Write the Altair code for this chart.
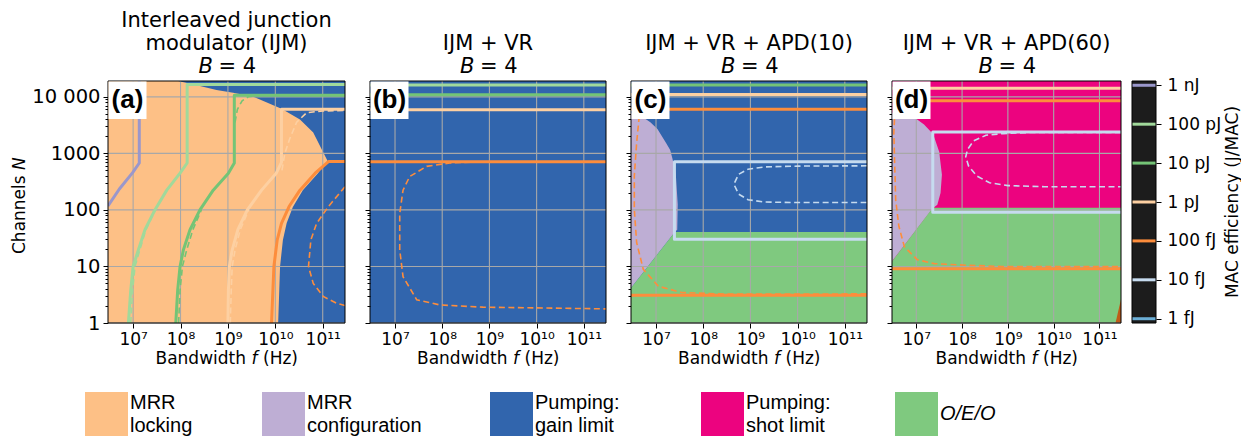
import altair as alt
import pandas as pd

FONT = "DejaVu Sans"
LEG_FONT = "Liberation Sans"

# ---------------- axis domains (log10 units) ----------------
F_LO, F_HI = 6.47, 11.47
N_LO, N_HI = 0.0, 4.28

X_TICKS = [1e7, 1e8, 1e9, 1e10, 1e11]
Y_TICKS = [1, 10, 100, 1000, 10000]
Y_MINOR = [m * 10 ** d for d in range(5) for m in range(2, 10) if m * 10 ** d < 10 ** N_HI]

# ---------------- energy levels ----------------
LEVELS = ["1 fJ", "10 fJ", "100 fJ", "1 pJ", "10 pJ", "100 pJ", "1 nJ"]
LEVEL_EXP = [-15, -14, -13, -12, -11, -10, -9]
LEVEL_COLORS = ["#6baed6", "#c6dbef", "#fd8d3c", "#fdd0a2", "#74c476", "#a1d99b", "#9a97cb"]

C_LOCK = "#fdc086"
C_CONF = "#beaed4"
C_GAIN = "#3165ad"
C_SHOT = "#ec037f"
C_OEO = "#7fc97f"
C_BROWN = "#bf5b17"

# ---------------- panel (a) ----------------
A_LOCK_N = [0.00, 1.00, 1.47, 1.77, 2.05, 2.35, 2.65, 2.87, 3.07, 3.37, 3.60, 3.79, 4.00, 4.07, 4.12, 4.19, 4.28]
A_LOCK_F = [10.06, 10.10, 10.16, 10.24, 10.37, 10.58, 10.90, 11.10, 10.98, 10.80, 10.52, 10.13, 9.54, 9.11, 8.76, 8.41, 7.95]

A_1NJ_F = [6.47, 6.71, 6.99, 7.13, 7.13]
A_1NJ_N = [2.07, 2.37, 2.66, 2.83, 4.30]
A_100PJ_F = [6.90, 6.95, 7.00, 7.11, 7.25, 7.46, 7.71, 7.99, 8.14, 8.14, 11.47]
A_100PJ_N = [0.00, 0.58, 1.00, 1.29, 1.65, 2.00, 2.35, 2.65, 2.83, 4.22, 4.22]
A_10PJ_F = [7.90, 7.94, 7.99, 8.06, 8.20, 8.41, 8.69, 9.01, 9.135, 9.135, 11.47]
A_10PJ_N = [0.00, 0.58, 1.00, 1.29, 1.65, 2.00, 2.35, 2.65, 2.83, 4.03, 4.03]
A_1PJ_F = [9.00, 9.01, 9.03, 9.09, 9.21, 9.41, 9.71, 10.02, 10.13, 10.13, 11.47]
A_1PJ_N = [0.00, 0.58, 1.00, 1.29, 1.65, 2.00, 2.35, 2.65, 2.84, 3.78, 3.78]
A_100FJ_F = [9.92, 9.97, 10.04, 10.13, 10.29, 10.52, 10.84, 11.12, 11.47]
A_100FJ_N = [0.00, 1.00, 1.47, 1.76, 2.06, 2.35, 2.65, 2.855, 2.855]
A_100FJ_D_F = [11.47, 11.12, 10.87, 10.75, 10.70, 10.80, 11.01, 11.29, 11.47]
A_100FJ_D_N = [2.41, 2.06, 1.76, 1.47, 1.00, 0.70, 0.47, 0.35, 0.31]
A_10PJ_D_F = [9.15, 9.20, 9.30, 9.43, 9.60, 11.47]
A_10PJ_D_N = [3.55, 3.78, 3.93, 4.00, 4.025, 4.025]
A_1PJ_D_F = [10.14, 10.20, 10.30, 10.45, 10.66, 11.00, 11.47]
A_1PJ_D_N = [2.70, 3.00, 3.25, 3.55, 3.72, 3.75, 3.76]
A_100PJ_D_F = [6.95, 6.99, 7.04, 7.14, 7.27, 7.47]
A_100PJ_D_N = [0.00, 0.58, 1.00, 1.29, 1.65, 2.00]
A_10PJ_D2_F = [7.96, 7.99, 8.04, 8.13, 8.26, 8.44]
A_10PJ_D2_N = [0.00, 0.58, 1.00, 1.29, 1.65, 2.00]
A_1PJ_D2_F = [9.05, 9.07, 9.09, 9.15, 9.26, 9.44]
A_1PJ_D2_N = [0.00, 0.58, 1.00, 1.29, 1.65, 2.00]

# ---------------- panel (b) ----------------
B_FULL_F = [6.47, 11.47]
B_100PJ_N = [4.21, 4.21]
B_10PJ_N = [4.035, 4.035]
B_1PJ_N = [3.77, 3.77]
B_100FJ_N = [2.85, 2.85]
B_100FJ_D_F = [9.20, 8.60, 8.16, 7.67, 7.31, 7.17, 7.10, 7.10, 7.17, 7.46, 7.95, 8.86, 11.47]
B_100FJ_D_N = [2.85, 2.845, 2.83, 2.77, 2.59, 2.35, 1.94, 1.29, 0.82, 0.41, 0.32, 0.28, 0.25]

# ---------------- panel (c) ----------------
C_OEO_F = [6.47, 7.40, 11.47]
C_OEO_N = [0.62, 1.61, 1.61]
C_CONF_N = [0.62, 1.61, 1.65, 2.10, 2.62, 2.90, 3.06, 3.19, 3.43, 3.55, 3.65, 3.72]
C_CONF_F = [6.47, 7.40, 7.45, 7.46, 7.42, 7.35, 7.30, 7.21, 7.03, 6.88, 6.70, 6.47]
C_10PJ_N = [4.21, 4.21]
C_1PJ_N = [4.04, 4.04]
C_100FJ_TOP_N = [3.78, 3.78]
C_100FJ_BOT_N = [0.49, 0.49]
C_10FJ_F = [11.47, 7.39, 7.39, 11.47]
C_10FJ_N = [2.85, 2.85, 1.48, 1.48]
C_100FJ_D_F = [6.80, 6.64, 6.59, 6.54, 6.54, 6.59, 6.73, 7.05, 7.54, 8.46, 11.47]
C_100FJ_D_N = [3.78, 3.62, 3.19, 2.60, 2.01, 1.42, 0.95, 0.65, 0.54, 0.51, 0.515]
C_10FJ_D_F = [11.47, 10.00, 9.30, 8.95, 8.75, 8.65, 8.75, 8.95, 9.30, 10.00, 11.47]
C_10FJ_D_N = [2.78, 2.775, 2.76, 2.72, 2.63, 2.455, 2.28, 2.18, 2.14, 2.13, 2.13]

# ---------------- panel (d) ----------------
D_OEO_F = [6.47, 7.36, 11.47]
D_OEO_N = [1.09, 2.04, 2.04]
D_CONF_N = [1.09, 2.03, 2.09, 2.30, 2.62, 3.03, 3.34, 3.51, 3.60, 3.68, 3.72]
D_CONF_F = [6.47, 7.36, 7.46, 7.53, 7.56, 7.50, 7.37, 7.17, 7.02, 6.80, 6.50]
D_BROWN_F = [11.35, 11.47]
D_BROWN_N = [0.00, 0.42]
D_1PJ_N = [4.15, 4.15]
D_100FJ_TOP_N = [3.93, 3.93]
D_100FJ_BOT_N = [0.96, 0.96]
D_10FJ_F = [11.47, 7.36, 7.36, 11.47]
D_10FJ_N = [3.38, 3.38, 1.96, 1.96]
D_100FJ_D_F = [6.62, 6.53, 6.51, 6.53, 6.55, 6.62, 6.74, 7.02, 7.39, 8.15, 8.87, 11.47]
D_100FJ_D_N = [3.93, 3.70, 3.36, 2.77, 2.18, 1.71, 1.35, 1.12, 1.05, 1.02, 1.00, 1.00]
D_10FJ_D_F = [11.47, 9.50, 8.90, 8.52, 8.25, 8.12, 8.08, 8.14, 8.32, 8.60, 9.00, 9.80, 11.47]
D_10FJ_D_N = [3.37, 3.37, 3.35, 3.32, 3.22, 3.07, 2.94, 2.78, 2.60, 2.48, 2.43, 2.41, 2.41]

# ---------------- legend ----------------
LEG_LABELS = [["MRR", "locking"], ["MRR", "configuration"], ["Pumping:", "gain limit"],
              ["Pumping:", "shot limit"], ["O/E/O"]]
LEG_COLORS = [C_LOCK, C_CONF, C_GAIN, C_SHOT, C_OEO]

# ---------------- helpers ----------------
PH = 242
XS = alt.Scale(type="log", domain=[10 ** F_LO, 10 ** F_HI], nice=False)
YS = alt.Scale(type="log", domain=[10 ** N_LO, 10 ** N_HI], nice=False)
COLOR_SCALE = alt.Scale(domain=LEVELS, range=LEVEL_COLORS)

X_LABEL_EXPR = ("datum.value < 3e7 ? '10⁷' : datum.value < 3e8 ? '10⁸' : "
                "datum.value < 3e9 ? '10⁹' : datum.value < 3e10 ? '10¹⁰' : '10¹¹'")
MAJOR_TEST = "indexof([1, 10, 100, 1000, 10000], datum.value) >= 0"
Y_LABEL_EXPR = f"{MAJOR_TEST} ? (datum.value == 10000 ? '10 000' : format(datum.value, 'd')) : ''"


def x_axis():
    return alt.Axis(values=X_TICKS, labelExpr=X_LABEL_EXPR, grid=False, domain=False,
                    tickColor="black", tickSize=5, tickWidth=1, labelFont=FONT,
                    labelFontSize=17, labelColor="black", labelPadding=3, title=None,
                    labelFlush=False, labelOverlap=False)


def y_axis(show_labels):
    return alt.Axis(values=Y_TICKS + Y_MINOR, labelExpr=Y_LABEL_EXPR, labels=show_labels,
                    grid=False, domain=False, tickColor="black",
                    tickSize={"condition": {"test": MAJOR_TEST, "value": 5}, "value": 3},
                    tickWidth=1, labelFont=FONT, labelFontSize=19.5, labelColor="black",
                    labelPadding=3, title=None, labelOverlap=False, labelFlush=False)


def X(field, xa):
    return alt.X(field, scale=XS, axis=xa)


def Y(field, ya):
    return alt.Y(field, scale=YS, axis=ya)


def text_layer(s, x, y, size=17, style="normal", weight="normal", align="center",
               baseline="alphabetic", angle=0, font=FONT):
    return alt.Chart(pd.DataFrame({"t": [s]})).mark_text(
        align=align, baseline=baseline, fontSize=size, font=font, fontStyle=style,
        fontWeight=weight, angle=angle, color="black"
    ).encode(x=alt.value(x), y=alt.value(y), text="t:N")


def lines_df(lines):
    rows = []
    for k, (level, lf, ln) in enumerate(lines):
        for i, (a, b) in enumerate(zip(lf, ln)):
            rows.append({"f": 10 ** a, "N": 10 ** b, "i": i, "id": k, "level": level})
    return pd.DataFrame(rows)


def panel(width, bg, h_regions, v_regions, solid, dashed, titles, tag, ylabels, extra=()):
    xa = x_axis()
    ya = y_axis(ylabels)
    layers = []
    # regions bounded on the left by the plot edge: closed polygons
    for color, lf, ln in h_regions:
        pf = list(lf) + [F_LO, F_LO]
        pn = list(ln) + [ln[-1], ln[0]]
        df = pd.DataFrame({"f": [10 ** v for v in pf], "N": [10 ** v for v in pn],
                           "i": list(range(len(pf)))})
        layers.append(alt.Chart(df).mark_line(fill=color, strokeOpacity=0, clip=True)
                      .encode(x=X("f:Q", xa), y=Y("N:Q", ya), order="i:Q"))
    # regions bounded below by the plot edge: areas
    for color, lf, ln in v_regions:
        df = pd.DataFrame({"f": [10 ** v for v in lf], "N": [10 ** v for v in ln],
                           "N0": [10 ** N_LO] * len(lf)})
        layers.append(alt.Chart(df).mark_area(color=color, opacity=1, clip=True)
                      .encode(x=X("f:Q", xa), y=Y("N:Q", ya), y2=alt.Y2("N0")))
    # grid
    layers.append(alt.Chart(pd.DataFrame({"f": X_TICKS})).mark_rule(color="#a8a8a8", strokeWidth=1.1)
                  .encode(x=X("f:Q", xa)))
    layers.append(alt.Chart(pd.DataFrame({"N": Y_TICKS})).mark_rule(color="#a8a8a8", strokeWidth=1.1)
                  .encode(y=Y("N:Q", ya)))
    if dashed:
        layers.append(alt.Chart(lines_df(dashed)).mark_line(strokeWidth=1.6, strokeDash=[6, 3.5], clip=True)
                      .encode(x=X("f:Q", xa), y=Y("N:Q", ya), detail="id:N", order="i:Q",
                              color=alt.Color("level:N", scale=COLOR_SCALE, legend=None)))
    if solid:
        layers.append(alt.Chart(lines_df(solid)).mark_line(strokeWidth=3, strokeJoin="round", clip=True)
                      .encode(x=X("f:Q", xa), y=Y("N:Q", ya), detail="id:N", order="i:Q",
                              color=alt.Color("level:N", scale=COLOR_SCALE, legend=None)))
    # frame
    layers.append(alt.Chart(pd.DataFrame({"t": [0]})).mark_rect(fillOpacity=0, stroke="black", strokeWidth=1)
                  .encode(x=alt.value(0), x2=alt.value(width), y=alt.value(0), y2=alt.value(PH)))
    # panel tag
    layers.append(alt.Chart(pd.DataFrame({"t": [0]})).mark_rect(color="white")
                  .encode(x=alt.value(0.5), x2=alt.value(38.5), y=alt.value(0.5), y2=alt.value(38)))
    layers.append(text_layer(tag, 19.5, 27, size=26, weight="bold", font=LEG_FONT))
    # titles
    c = width / 2
    for s, y in titles:
        layers.append(text_layer(s, c, y, size=21))
    layers.append(text_layer("B", c - 28, -8.5, size=21, style="italic", align="left"))
    layers.append(text_layer("= 4", c - 7.9, -8.5, size=21, align="left"))
    # x title
    layers.append(text_layer("Bandwidth", c - 71, 283, align="left"))
    layers.append(text_layer("f", c + 25, 283, style="italic", align="left"))
    layers.append(text_layer("(Hz)", c + 36.5, 283, align="left"))
    layers.extend(extra)
    return alt.layer(*layers).properties(width=width, height=PH,
                                         view=alt.ViewBackground(fill=bg, stroke=None))


# y title and legend are drawn in panel (a) coordinates (origin = plot top-left)
extra_a = [
    text_layer("Channels", -88, 173, angle=270, align="left", baseline="middle"),
    text_layer("N", -88, 89, angle=270, align="left", baseline="middle", style="italic"),
]
LEG_X = [85, 262, 490, 701, 895]
for k, (labels, col) in enumerate(zip(LEG_LABELS, LEG_COLORS)):
    x0 = LEG_X[k] - 108
    extra_a.append(alt.Chart(pd.DataFrame({"t": [0]})).mark_rect(color=col)
                   .encode(x=alt.value(x0), x2=alt.value(x0 + 43), y=alt.value(311), y2=alt.value(356)))
    if len(labels) == 2:
        extra_a.append(text_layer(labels[0], x0 + 45, 328, size=20, align="left", font=LEG_FONT))
        extra_a.append(text_layer(labels[1], x0 + 45, 351, size=20, align="left", font=LEG_FONT))
    else:
        extra_a.append(text_layer(labels[0], x0 + 45, 339, size=20, align="left", font=LEG_FONT,
                                  style="italic"))

pa = panel(
    237, C_GAIN,
    h_regions=[(C_LOCK, A_LOCK_F, A_LOCK_N)],
    v_regions=[],
    solid=[("1 nJ", A_1NJ_F, A_1NJ_N), ("100 pJ", A_100PJ_F, A_100PJ_N), ("10 pJ", A_10PJ_F, A_10PJ_N),
           ("1 pJ", A_1PJ_F, A_1PJ_N), ("100 fJ", A_100FJ_F, A_100FJ_N)],
    dashed=[("100 fJ", A_100FJ_D_F, A_100FJ_D_N), ("10 pJ", A_10PJ_D_F, A_10PJ_D_N),
            ("1 pJ", A_1PJ_D_F, A_1PJ_D_N), ("100 pJ", A_100PJ_D_F, A_100PJ_D_N),
            ("10 pJ", A_10PJ_D2_F, A_10PJ_D2_N), ("1 pJ", A_1PJ_D2_F, A_1PJ_D2_N)],
    titles=[("Interleaved junction", -54), ("modulator (IJM)", -31.5)],
    tag="(a)", ylabels=True, extra=extra_a)

pb = panel(
    236, C_GAIN, h_regions=[], v_regions=[],
    solid=[("100 pJ", B_FULL_F, B_100PJ_N), ("10 pJ", B_FULL_F, B_10PJ_N),
           ("1 pJ", B_FULL_F, B_1PJ_N), ("100 fJ", B_FULL_F, B_100FJ_N)],
    dashed=[("100 fJ", B_100FJ_D_F, B_100FJ_D_N)],
    titles=[("IJM + VR", -31.5)], tag="(b)", ylabels=False)

pc = panel(
    236, C_GAIN,
    h_regions=[(C_CONF, C_CONF_F, C_CONF_N)],
    v_regions=[(C_OEO, C_OEO_F, C_OEO_N)],
    solid=[("10 pJ", B_FULL_F, C_10PJ_N), ("1 pJ", B_FULL_F, C_1PJ_N),
           ("100 fJ", B_FULL_F, C_100FJ_TOP_N), ("100 fJ", B_FULL_F, C_100FJ_BOT_N),
           ("10 fJ", C_10FJ_F, C_10FJ_N)],
    dashed=[("100 fJ", C_100FJ_D_F, C_100FJ_D_N), ("10 fJ", C_10FJ_D_F, C_10FJ_D_N)],
    titles=[("IJM + VR + APD(10)", -31.5)], tag="(c)", ylabels=False)

pd_ = panel(
    229, C_SHOT,
    h_regions=[(C_CONF, D_CONF_F, D_CONF_N)],
    v_regions=[(C_OEO, D_OEO_F, D_OEO_N), (C_BROWN, D_BROWN_F, D_BROWN_N)],
    solid=[("1 pJ", B_FULL_F, D_1PJ_N), ("100 fJ", B_FULL_F, D_100FJ_TOP_N),
           ("100 fJ", B_FULL_F, D_100FJ_BOT_N), ("10 fJ", D_10FJ_F, D_10FJ_N)],
    dashed=[("100 fJ", D_100FJ_D_F, D_100FJ_D_N), ("10 fJ", D_10FJ_D_F, D_10FJ_D_N)],
    titles=[("IJM + VR + APD(60)", -31.5)], tag="(d)", ylabels=False)

# ---------------- colorbar ----------------
CB_LABEL_EXPR = " : ".join(f"datum.value == {e} ? '{l}'" for e, l in zip(LEVEL_EXP, LEVELS)) + " : ''"
cb_rules = alt.Chart(pd.DataFrame({"e": LEVEL_EXP, "level": LEVELS})).mark_rule(strokeWidth=3).encode(
    y=alt.Y("e:Q", scale=alt.Scale(domain=[-15.11, -8.89], nice=False, zero=False),
            axis=alt.Axis(orient="right", values=LEVEL_EXP, labelExpr=CB_LABEL_EXPR, grid=False,
                          domain=False, tickColor="black", tickSize=5, labelFont=FONT,
                          labelFontSize=17, labelColor="black", labelPadding=6, title=None)),
    color=alt.Color("level:N", scale=COLOR_SCALE, legend=None),
)
cb_frame = alt.Chart(pd.DataFrame({"t": [0]})).mark_rect(fillOpacity=0, stroke="black", strokeWidth=1) \
    .encode(x=alt.value(0), x2=alt.value(24), y=alt.value(0), y2=alt.value(PH))
cb_title = text_layer("MAC efficiency (J/MAC)", 101, 121, size=17, angle=270, baseline="middle")
cbar = alt.layer(cb_rules, cb_frame, cb_title).properties(
    width=24, height=PH, view=alt.ViewBackground(fill="#1c1c1c", stroke=None))

right = alt.hconcat(pd_, cbar, spacing=11, bounds="flush")
chart = alt.hconcat(pa, pb, pc, right, spacing=25, bounds="flush").properties(
    padding={"left": 11, "top": 10, "right": 0, "bottom": 0}
).configure_view(stroke=None)

chart.save("out.html", embed_options={"renderer": "svg", "actions": False})
